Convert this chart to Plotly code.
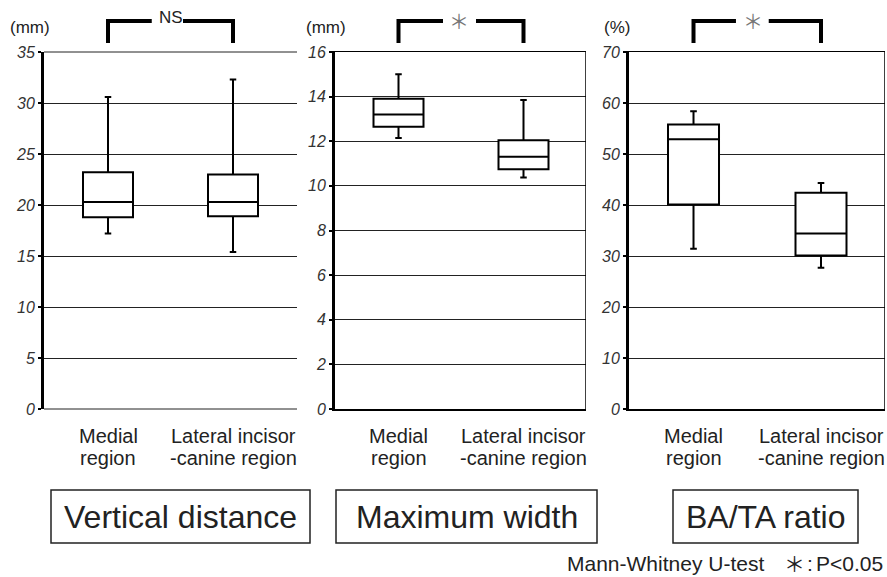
import plotly.graph_objects as go

W, H = 887, 577

categories = ["Medial region", "Lateral incisor -canine region"]
cat_line1 = ["Medial", "Lateral incisor"]
cat_line2 = ["region", "-canine region"]

# Vertical distance (mm)
vd_low = [17.2, 15.4]
vd_q1 = [18.8, 18.9]
vd_med = [20.3, 20.3]
vd_q3 = [23.2, 23.0]
vd_high = [30.6, 32.3]

# Maximum width (mm)
mw_low = [12.15, 10.37]
mw_q1 = [12.65, 10.75]
mw_med = [13.2, 11.3]
mw_q3 = [13.9, 12.05]
mw_high = [15.0, 13.85]

# BA/TA ratio (%)
br_low = [31.4, 27.7]
br_q1 = [40.1, 30.1]
br_med = [52.9, 34.4]
br_q3 = [55.8, 42.4]
br_high = [58.4, 44.3]

panel_titles = ["Vertical distance", "Maximum width", "BA/TA ratio"]
units = ["(mm)", "(mm)", "(%)"]
sig_labels = ["NS", "＊", "＊"]
y_max = [35, 16, 70]
y_dtick = [5, 2, 10]
footer_test = "Mann-Whitney U-test"
footer_star = "＊"
footer_colon = ":"
footer_p = "P<0.05"

FONT = "Arial, Liberation Sans, sans-serif"
CJK = "Noto Sans CJK JP"


def px(xp):
    return xp / W


def py(yp):
    return 1 - yp / H


# pixel layout
x_dom = [(44, 297), (335, 586), (629, 885)]
x_rng = [(-0.512, 1.512), (-0.508, 1.5), (-0.506, 1.502)]
y_top, y_bot = 52, 409

fig = go.Figure()

stats = [
    (vd_low, vd_q1, vd_med, vd_q3, vd_high),
    (mw_low, mw_q1, mw_med, mw_q3, mw_high),
    (br_low, br_q1, br_med, br_q3, br_high),
]

for i, (lo, q1, md, q3, hi) in enumerate(stats):
    sfx = "" if i == 0 else str(i + 1)
    for j in range(2):
        fig.add_trace(go.Box(
            x=[j], lowerfence=[lo[j]], q1=[q1[j]], median=[md[j]], q3=[q3[j]], upperfence=[hi[j]],
            width=0.4, whiskerwidth=0.13, boxpoints=False,
            line=dict(color="black", width=2), fillcolor="white",
            xaxis="x" + sfx, yaxis="y" + sfx, showlegend=False, hoverinfo="skip",
            name=categories[j],
        ))

layout = dict(
    width=W, height=H, margin=dict(l=0, r=0, t=0, b=0, pad=0), autosize=False,
    paper_bgcolor="white", plot_bgcolor="white", showlegend=False,
    font=dict(family=FONT, color="#222"),
)

shapes = []
annotations = []


def ann(text, x, y, xref="paper", size=20, color="#222", family=FONT, xanchor="center"):
    return dict(text=text, x=x, y=y, xref=xref, yref="paper", showarrow=False,
                xanchor=xanchor, yanchor="middle",
                font=dict(size=size, color=color, family=family))


for i in range(3):
    sfx = "" if i == 0 else str(i + 1)
    framed = i > 0
    layout["xaxis" + sfx] = dict(
        domain=[px(x_dom[i][0]), px(x_dom[i][1])], range=list(x_rng[i]),
        showticklabels=False, showgrid=False, zeroline=False, ticks="",
        showline=framed, mirror=framed, linecolor="black", linewidth=1.5,
        anchor="y" + sfx, fixedrange=True, automargin=False,
    )
    layout["yaxis" + sfx] = dict(
        domain=[py(y_bot), py(y_top)], range=[0, y_max[i]], dtick=y_dtick[i],
        showgrid=True, gridcolor="#222", gridwidth=1, zeroline=False,
        showline=True, linecolor="black", linewidth=3,
        ticks="outside", ticklen=3, tickwidth=2, tickcolor="black",
        tickfont=dict(family=FONT, size=16, color="#333", style="italic"),
        anchor="x" + sfx, fixedrange=True, automargin=False,
    )
    xr = "x" + sfx
    if framed:
        shapes.append(dict(type="line", xref=xr, yref="paper",
                           x0=x_rng[i][1], x1=x_rng[i][1], y0=py(y_bot), y1=py(y_top),
                           line=dict(color="black", width=1.5)))
    else:
        shapes.append(dict(type="line", xref="paper", yref="paper",
                           x0=px(x_dom[0][0]), x1=px(x_dom[0][1]), y0=py(y_top), y1=py(y_top),
                           line=dict(color="#222", width=1)))
        shapes.append(dict(type="line", xref="paper", yref="paper",
                           x0=px(x_dom[0][0]), x1=px(x_dom[0][1]), y0=py(y_bot), y1=py(y_bot),
                           line=dict(color="#222", width=1)))
    # significance bracket
    gaps = [(0.35, 0.60), (0.356, 0.62), (0.333, 0.59)][i]
    sig_x = [0.504, 0.48, 0.467][i]
    bt, bb = py(21), py(43)
    br_line = dict(color="black", width=4)
    shapes.append(dict(type="path", xref=xr, yref="paper",
                       path=f"M 0,{bb} L 0,{bt} L {gaps[0]},{bt}", line=br_line))
    shapes.append(dict(type="path", xref=xr, yref="paper",
                       path=f"M {gaps[1]},{bt} L 1,{bt} L 1,{bb}", line=br_line))
    if sig_labels[i] == "NS":
        annotations.append(ann("NS", sig_x, py(18), xref=xr, size=17))
    else:
        annotations.append(ann(sig_labels[i], sig_x, py(20), xref=xr, size=20, color="#777",
                               family=CJK + ", " + FONT))
    # units
    unit_x = [30, 325.5, 616.5][i]
    annotations.append(ann(units[i], px(unit_x), py(27), size=17))
    # category labels
    for j in range(2):
        annotations.append(ann(cat_line1[j], j, py(436), xref=xr, size=20))
        annotations.append(ann(cat_line2[j], j, py(458), xref=xr, size=20))
    # panel title boxes
    bx = [(51, 310), (336, 597), (673, 858)][i]
    shapes.append(dict(type="rect", xref="paper", yref="paper",
                       x0=px(bx[0]), x1=px(bx[1]), y0=py(543), y1=py(490),
                       line=dict(color="#222", width=1.5), fillcolor="rgba(0,0,0,0)"))
    annotations.append(ann(panel_titles[i], px((bx[0] + bx[1]) / 2), py(517), size=32))

annotations.append(ann(footer_test, px(766), py(563), size=21, xanchor="right"))
annotations.append(ann(footer_star, px(794), py(563), size=21, family=CJK + ", " + FONT))
annotations.append(ann(footer_colon, px(810), py(563), size=21))
annotations.append(ann(footer_p, px(885), py(563), size=21, xanchor="right"))

layout["shapes"] = shapes
layout["annotations"] = annotations
fig.update_layout(**layout)
fig.write_html(
    "out.html",
    config={"displayModeBar": False, "staticPlot": True},
    post_script="document.body.style.margin='0';document.body.style.padding='0';"
                "document.body.style.overflow='hidden';",
)
